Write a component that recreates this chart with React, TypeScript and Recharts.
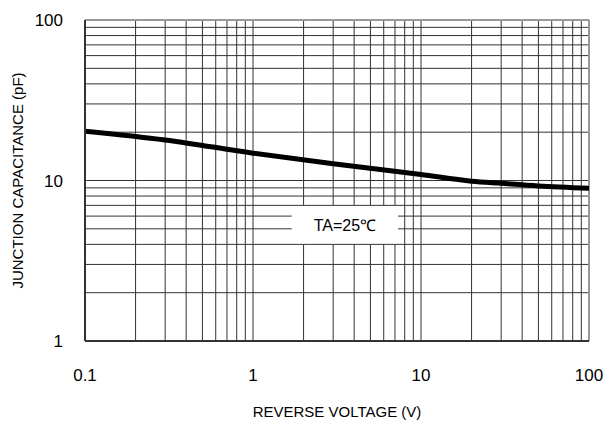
import {
  LineChart,
  Line,
  XAxis,
  YAxis,
  ReferenceLine,
  ReferenceArea,
} from 'recharts';

// Reverse voltage (V) vs junction capacitance (pF)
const voltage = [0.1, 0.3, 1, 3, 10, 20, 30, 50, 100];
const capacitance = [20.3, 17.9, 14.8, 12.7, 10.9, 9.9, 9.6, 9.25, 8.95];

const xTicks = [0.1, 1, 10, 100];
const yTicks = [1, 10, 100];

// minor log gridlines
const xGrid = [
  0.2, 0.3, 0.4, 0.5, 0.6, 0.7, 0.8, 0.9, 1,
  2, 3, 4, 5, 6, 7, 8, 9, 10,
  20, 30, 40, 50, 60, 70, 80, 90,
];
const yGrid = [2, 3, 4, 5, 6, 7, 8, 9, 10, 20, 30, 40, 50, 60, 70, 80, 90];

// white label box (data units)
const boxX = [1.7, 7.3];
const boxY = [4, 7];

const FONT = '"Liberation Sans", Arial, sans-serif';

export default function App() {
  const data = voltage.map((v, i) => ({ v, c: capacitance[i] }));
  const gridColor = '#333';

  const vLines = xGrid.flatMap((x) => {
    if (x > boxX[0] && x < boxX[1]) {
      return [
        { key: `x${x}a`, segment: [{ x, y: 1 }, { x, y: boxY[0] }] },
        { key: `x${x}b`, segment: [{ x, y: boxY[1] }, { x, y: 100 }] },
      ];
    }
    return [{ key: `x${x}`, segment: [{ x, y: 1 }, { x, y: 100 }] }];
  });

  const hLines = yGrid.flatMap((y) => {
    if (y > boxY[0] && y < boxY[1]) {
      return [
        { key: `y${y}a`, segment: [{ x: 0.1, y }, { x: boxX[0], y }] },
        { key: `y${y}b`, segment: [{ x: boxX[1], y }, { x: 100, y }] },
      ];
    }
    return [{ key: `y${y}`, segment: [{ x: 0.1, y }, { x: 100, y }] }];
  });

  return (
    <div style={{ position: 'absolute', left: 0, top: 0, width: 609, height: 423, background: '#fff' }}>
      <LineChart
        width={609}
        height={423}
        data={data}
        margin={{ top: 20, right: 20, left: 0, bottom: 0 }}
        style={{ fontFamily: FONT }}
      >
        <XAxis
          dataKey="v"
          type="number"
          scale="log"
          domain={[0.1, 100]}
          ticks={xTicks}
          allowDataOverflow
          height={82}
          tickLine={false}
          tickMargin={22}
          axisLine={{ stroke: '#333', strokeWidth: 2 }}
          tick={{ fill: '#000', fontSize: 17, fontFamily: FONT }}
          label={{
            value: 'REVERSE VOLTAGE (V)',
            position: 'insideBottom',
            offset: 6,
            fill: '#000',
            fontSize: 15,
            fontFamily: FONT,
          }}
        />
        <YAxis
          type="number"
          scale="log"
          domain={[1, 100]}
          ticks={yTicks}
          allowDataOverflow
          width={85}
          tickLine={false}
          tickMargin={16}
          axisLine={{ stroke: '#333', strokeWidth: 2 }}
          tick={{ fill: '#000', fontSize: 17, fontFamily: FONT }}
          label={{
            value: 'JUNCTION CAPACITANCE (pF)',
            angle: -90,
            position: 'insideLeft',
            offset: 18,
            style: { textAnchor: 'middle' },
            fill: '#000',
            fontSize: 15,
            fontFamily: FONT,
          }}
        />

        <ReferenceArea
          x1={boxX[0]}
          x2={boxX[1]}
          y1={boxY[0]}
          y2={boxY[1]}
          fill="#fff"
          fillOpacity={0}
          stroke="none"
          label={{ value: 'TA=25℃', fill: '#000', fontSize: 16, fontFamily: FONT }}
        />

        {vLines.map((l) => (
          <ReferenceLine key={l.key} segment={l.segment} stroke={gridColor} strokeWidth={1} />
        ))}
        {hLines.map((l) => (
          <ReferenceLine key={l.key} segment={l.segment} stroke={gridColor} strokeWidth={1} />
        ))}

        <ReferenceLine y={100} stroke="#999" strokeWidth={2} />
        <ReferenceLine x={100} stroke="#999" strokeWidth={2} />

        <Line
          type="monotone"
          dataKey="c"
          stroke="#000"
          strokeWidth={5}
          dot={false}
          isAnimationActive={false}
        />
      </LineChart>
    </div>
  );
}
